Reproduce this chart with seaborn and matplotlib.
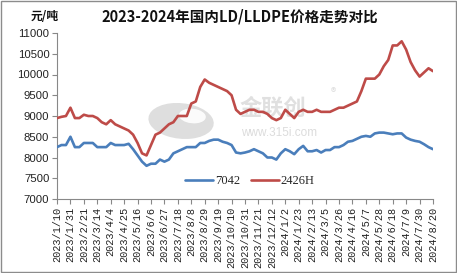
import matplotlib
matplotlib.use("Agg")
import matplotlib.pyplot as plt
import seaborn as sns
import pandas as pd
import numpy as np
from matplotlib.patches import Rectangle, Ellipse

# ---------------- data ----------------
start_date = "2023-01-10"
n_weeks = 85  # weekly samples 2023/1/10 .. 2024/8/20

series_7042 = [
    8250, 8300, 8300, 8500, 8250, 8250, 8350, 8350, 8350, 8250,
    8250, 8250, 8350, 8300, 8300, 8300, 8330, 8200, 8050, 7900,
    7800, 7850, 7850, 7950, 7900, 7950, 8100, 8150, 8200, 8250,
    8250, 8250, 8350, 8350, 8400, 8430, 8430, 8380, 8350, 8300,
    8120, 8100, 8120, 8150, 8200, 8150, 8100, 8000, 8000, 7950,
    8100, 8200, 8150, 8080, 8200, 8280, 8150, 8150, 8180, 8120,
    8180, 8180, 8250, 8250, 8300, 8380, 8400, 8450, 8500, 8520,
    8500, 8580, 8600, 8600, 8580, 8560, 8580, 8580, 8480, 8430,
    8400, 8380, 8320, 8250, 8200,
]
series_2426H = [
    8950, 8980, 9000, 9200, 8950, 8950, 9030, 9000, 9000, 8950,
    8850, 8800, 8900, 8800, 8750, 8700, 8650, 8550, 8350, 8100,
    8050, 8300, 8550, 8600, 8700, 8800, 8850, 9000, 9000, 9000,
    9300, 9350, 9700, 9880, 9800, 9750, 9700, 9650, 9600, 9500,
    9150, 9050, 9100, 9150, 9150, 9100, 9100, 9050, 8950, 8900,
    8950, 9150, 9050, 8950, 9100, 9150, 9100, 9100, 9150, 9100,
    9100, 9100, 9150, 9200, 9200, 9250, 9300, 9350, 9600, 9900,
    9900, 9900, 10000, 10200, 10350, 10700, 10700, 10800, 10600, 10300,
    10100, 9950, 10050, 10150, 10080,
]
series_names = ["7042", "2426H"]
tick_labels = [
    "2023/1/10", "2023/1/31", "2023/2/21", "2023/3/14", "2023/4/4",
    "2023/4/25", "2023/5/16", "2023/6/6", "2023/6/27", "2023/7/18",
    "2023/8/8", "2023/8/29", "2023/9/19", "2023/10/10", "2023/10/31",
    "2023/11/21", "2023/12/12", "2024/1/2", "2024/1/23", "2024/2/13",
    "2024/3/5", "2024/3/26", "2024/4/16", "2024/5/7", "2024/5/28",
    "2024/6/18", "2024/7/9", "2024/7/30", "2024/8/20",
]
y_ticks = [7000, 7500, 8000, 8500, 9000, 9500, 10000, 10500, 11000]

title = "2023-2024年国内LD/LLDPE价格走势对比"
unit = "元/吨"
colors = ["#4A7EBB", "#BE4B48"]

# ---------------- frame ----------------
dates = pd.date_range(start_date, periods=n_weeks, freq="7D")
df = pd.concat([
    pd.DataFrame({"date": dates, "price": series_7042, "series": series_names[0]}),
    pd.DataFrame({"date": dates, "price": series_2426H, "series": series_names[1]}),
])

sns.set_theme(style="white")
plt.rcParams["font.family"] = ["Noto Sans CJK SC", "DejaVu Sans"]

fig = plt.figure(figsize=(4.57, 2.73), dpi=100)
ax = fig.add_axes([57 / 457, 1 - 199 / 273, 376 / 457, 166 / 273])

# watermark
ax.add_patch(Ellipse((0.33, 0.47), 0.17, 0.22, angle=15, transform=ax.transAxes,
                     facecolor="#d6d6d6", edgecolor="none", alpha=0.8, zorder=0))
ax.add_patch(Ellipse((0.36, 0.50), 0.07, 0.09, angle=15, transform=ax.transAxes,
                     facecolor="white", edgecolor="none", alpha=0.9, zorder=0))
ax.text(0.575, 0.545, "金联创", transform=ax.transAxes, ha="center", va="center",
        fontsize=16, color="#e0e0e0", fontweight="bold", zorder=0)
ax.text(0.735, 0.64, "®", transform=ax.transAxes, ha="center", va="center",
        fontsize=8, color="#dddddd", zorder=0)
ax.text(0.59, 0.40, "www.315i.com", transform=ax.transAxes, ha="center", va="center",
        fontsize=8.5, color="#dcdcdc", family="Liberation Sans", zorder=0)

sns.lineplot(data=df, x="date", y="price", hue="series", palette=colors,
             linewidth=1.9, ax=ax, legend=False, zorder=3)

tick_dates = pd.to_datetime(tick_labels, format="%Y/%m/%d")
ax.set_xlim(tick_dates[0], tick_dates[-1])
ax.set_ylim(y_ticks[0], y_ticks[-1])
ax.set_xticks(tick_dates)
ax.set_xticklabels(tick_labels, rotation=90, family="Liberation Mono", fontsize=7.4,
                   color="#222222")
ax.set_yticks(y_ticks)
ax.set_yticklabels([str(v) for v in y_ticks], family="Liberation Sans", fontsize=8.2,
                   color="#222222")
ax.set_xlabel("")
ax.set_ylabel("")
ax.tick_params(axis="both", direction="out", length=3.5, width=0.8, color="#888888",
               bottom=True, left=True, pad=2)

for s in ["top", "right"]:
    ax.spines[s].set_visible(False)
for s in ["left", "bottom"]:
    ax.spines[s].set_color("#888888")
    ax.spines[s].set_linewidth(0.8)
ax.grid(False)

# legend
from matplotlib.lines import Line2D
handles = [Line2D([0], [0], color=c, lw=1.9) for c in colors]
ax.legend(handles, series_names, loc="center", bbox_to_anchor=(0.513, 0.108), ncol=2,
          frameon=False, prop={"family": "Liberation Serif", "size": 9},
          handlelength=2.2, handletextpad=0.15, columnspacing=0.9, borderpad=0)

# titles
fig.text(240 / 457, 1 - 16 / 273, title, ha="center", va="center", fontsize=10.5,
         fontweight="bold", color="#111111")
fig.text(45 / 457, 1 - 17 / 273, unit, ha="center", va="center", fontsize=8.5,
         fontweight="bold", color="#111111")

# outer border
fig.patches.append(Rectangle((0.003, 0.005), 0.994, 0.99, transform=fig.transFigure,
                             fill=False, edgecolor="#8c8c8c", linewidth=1.0))

fig.savefig("out.png", dpi=100)
